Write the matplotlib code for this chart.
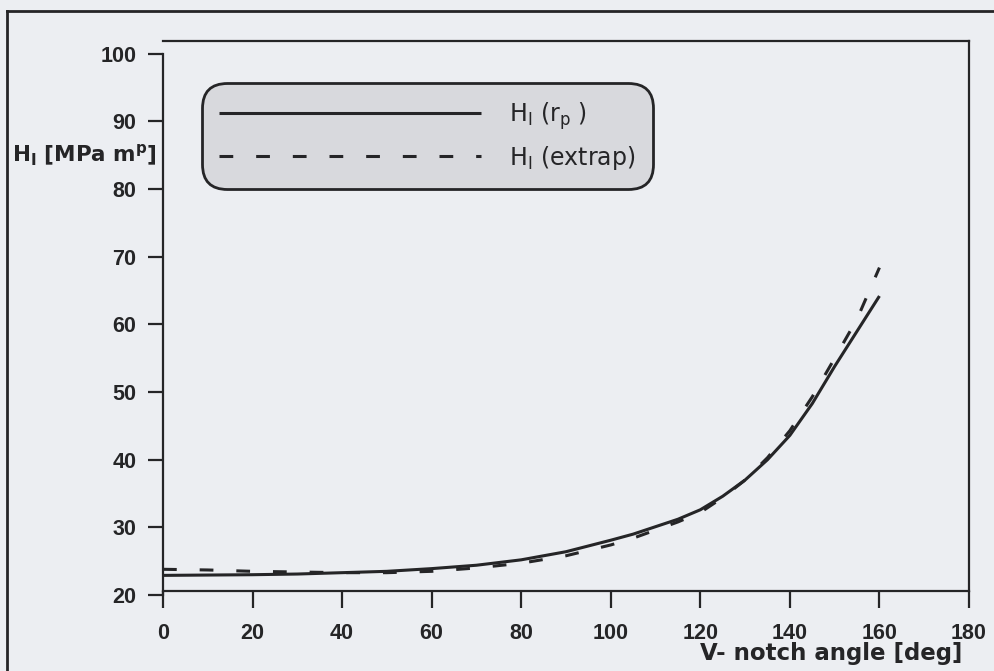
import matplotlib
matplotlib.use("Agg")
import matplotlib.pyplot as plt
from matplotlib.lines import Line2D

# ---- data ----
angles = [0, 10, 20, 30, 40, 50, 60, 70, 80, 90, 100, 105, 110, 115, 120, 125, 130,
          135, 140, 145, 150, 155, 160]
h_rp = [22.9, 22.95, 23.0, 23.1, 23.3, 23.5, 23.9, 24.4, 25.2, 26.4, 28.1, 29.0, 30.1,
        31.2, 32.6, 34.6, 37.0, 40.0, 43.6, 48.3, 53.8, 59.0, 64.2]
h_extrap = [23.8, 23.7, 23.5, 23.4, 23.3, 23.3, 23.5, 24.0, 24.7, 25.8, 27.4, 28.4, 29.6,
            30.8, 32.2, 34.4, 37.0, 40.3, 44.3, 49.3, 55.0, 60.8, 68.4]
x_ticks = [0, 20, 40, 60, 80, 100, 120, 140, 160, 180]
y_ticks = [20, 30, 40, 50, 60, 70, 80, 90, 100]
labels = [r'H$_{\mathrm{I}}$ (r$_{\mathrm{p}}$ )', r'H$_{\mathrm{I}}$ (extrap)']
xlabel = 'V- notch angle [deg]'
ylabel = r'H$_{\mathbf{I}}$ [MPa m$^{\mathbf{p}}$]'

plt.rcParams['mathtext.fontset'] = 'dejavusans'
INK = '#252527'
BG = '#eceef2'

W, H = 994, 671
fig = plt.figure(figsize=(W / 100, H / 100), dpi=100, facecolor=BG)

# axes: x 163..969 px, y 41..595 px
ax = fig.add_axes([163 / W, 1 - 595 / H, 806 / W, 554 / H])
ax.set_facecolor('none')
ax.set_xlim(0, 180)
ax.set_ylim(20, 101.9)

ax.plot(angles, h_rp, color=INK, lw=2.2, label=labels[0], solid_capstyle='butt',
        solid_joinstyle='round')
ax.plot(angles, h_extrap, color=INK, lw=2.2, ls=(0, (4.5, 7.5)), label=labels[1],
        dash_capstyle='butt')

for s in ax.spines.values():
    s.set_color(INK)
    s.set_linewidth(1.6)
ax.spines['bottom'].set_position(('data', 20.6))
ax.spines['left'].set_bounds(20, 100)
ax.spines['right'].set_bounds(20.6, 101.9)

ax.set_xticks(x_ticks)
ax.set_yticks(y_ticks)
ax.tick_params(axis='x', direction='out', length=12, width=1.6, pad=11, color=INK,
               labelcolor=INK)
ax.tick_params(axis='y', direction='out', length=11, width=1.6, pad=8, color=INK,
               labelcolor=INK)
for lab in ax.get_xticklabels() + ax.get_yticklabels():
    lab.set_fontfamily('Liberation Sans')
    lab.set_fontweight('bold')
    lab.set_fontsize(15.5)

leg = ax.legend(loc='upper left', bbox_to_anchor=((202 - 163) / 806, 1 - (83 - 41) / 554),
                borderaxespad=0, prop={'family': 'DejaVu Sans', 'size': 17},
                handlelength=11.1, handletextpad=1.19, borderpad=0.72, labelspacing=0.5,
                frameon=True, fancybox=True, framealpha=1, facecolor='#d8d9dd',
                edgecolor=INK)
leg.get_frame().set_linewidth(2.0)
leg.get_frame().set_boxstyle('round', pad=0, rounding_size=1.05)
for t in leg.get_texts():
    t.set_color(INK)

fig.text(12 / W, 1 - 162 / H, ylabel, ha='left', va='baseline', fontsize=15.5,
         fontweight='bold', family='DejaVu Sans', color=INK)
fig.text(962 / W, 1 - 660 / H, xlabel, ha='right', va='baseline', fontsize=16.5,
         fontweight='bold', family='DejaVu Sans', color=INK)

# outer page frame (top and left)
fig.add_artist(Line2D([7 / W, 7 / W], [0, 1 - 11 / H], transform=fig.transFigure,
                      color=INK, lw=2.0))
fig.add_artist(Line2D([7 / W, 1], [1 - 11 / H, 1 - 11 / H], transform=fig.transFigure,
                      color=INK, lw=2.0))

fig.savefig('out.png', dpi=100, facecolor=BG)
